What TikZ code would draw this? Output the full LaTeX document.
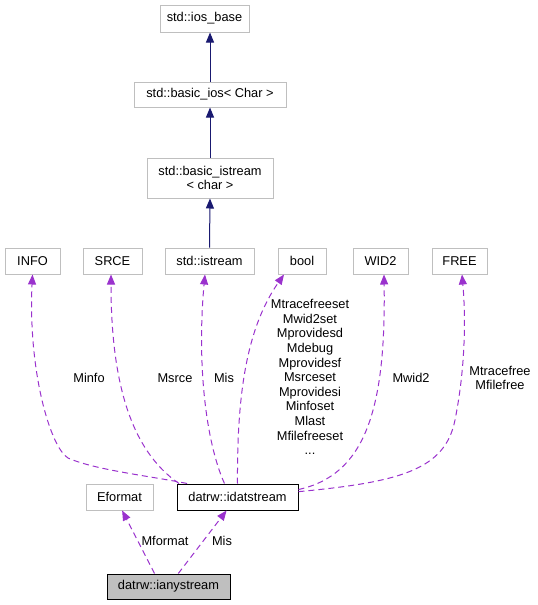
\documentclass[tikz,border=0pt]{standalone}
\usepackage{fontspec}
\setmainfont{Liberation Sans}
\usetikzlibrary{arrows.meta}
\definecolor{grey75}{HTML}{BFBFBF}
\definecolor{orchid}{HTML}{9A32CD}
\definecolor{navy}{HTML}{191970}
\begin{document}
\begin{tikzpicture}[x=1pt, y=-1pt, line width=1pt, font=\fontsize{12.8}{14.6}\selectfont,
	main/.style = {draw=grey75, rectangle, minimum height=26pt, inner sep=1pt, align=center},
	inh/.style = {draw=navy, -{Triangle[length=10pt,width=8pt,fill=navy]}},
	use/.style = {draw=orchid, dash pattern=on 6pt off 4pt, -{Triangle[length=10pt,width=8pt,fill=orchid]}}]
		\useasboundingbox (0,0) rectangle (538,605);
		
		\node[main, minimum width=89pt, minimum height=27pt] (1) at (204.5,18.5) {std::ios\_base};
		\node[main, minimum width=152pt, minimum height=25pt] (2) at (210,94.5) {std::basic\_ios< Char >};
		\node[main, minimum width=126pt, minimum height=40pt] (3) at (210,178) {std::basic\_istream\\< char >};
		
		\node[main, minimum width=55pt] (5) at (32.5,261) {INFO};
		\node[main, minimum width=59pt] (6) at (112.5,261) {SRCE};
		\node[main, minimum width=89pt] (4) at (209.5,261) {std::istream};
		\node[main, minimum width=48pt] (7) at (302,261) {bool};
		\node[main, minimum width=55pt] (8) at (380.5,261) {WID2};
		\node[main, minimum width=55pt] (9) at (459.5,261) {FREE};
		
		\node[main, minimum width=67pt] (11) at (119.5,497) {Eformat};
		\node[main, draw=black, minimum width=121pt] (10) at (237.5,497) {datrw::idatstream};
		
		\node[main, draw=black, fill=grey75, minimum width=123pt, minimum height=25pt] (12) at (168.5,586.5) {datrw::ianystream};
		
		
		\draw[inh] (2.north) -- (2.north |- 1.south);
		\draw[inh] (3.north) -- (2.south);
		\draw[inh] (4.north) -- (3.south);
		
		\draw[use] (10.165) .. controls (150,476) and (95,470) .. (68,458) .. controls (50,447) and (28,370) .. (5.south) node at (89,378) {Minfo};
		\draw[use] (10.167) .. controls (130,450) and (111,380) .. (6.south -| 111,0) node at (175,378) {Msrce};
		\draw[use] (10.134) .. controls (205,440) and (197,360) .. (4.south -| 205,0) node at (224,378) {Mis};
		\draw[use] (10.north) .. controls (237,400) and (245,330) .. (7.south -| 284,0) node[align=center] at (310,377) {Mtracefreeset\\Mwid2set\\Mprovidesd\\Mdebug\\Mprovidesf\\Msrceset\\Mprovidesi\\Minfoset\\Mlast\\Mfilefreeset\\...};
		\draw[use] (10.7) .. controls (365,475) and (386,410) .. (8.south -| 384,0) node at (411,378) {Mwid2};
		\draw[use] (10.5) .. controls (400,482) and (445,470) .. (455,420) .. controls (465,370) and (466,320) .. (9.south -| 462,0) node[align=center] at (500,378) {Mtracefree\\Mfilefree};
		
		\draw[use] (12.137) -- (11.281) node at (165,541) {Mformat};
		\draw[use] (12.53) -- (10.231) node at (222,541) {Mis};
		
		
	\end{tikzpicture}
\end{document}
